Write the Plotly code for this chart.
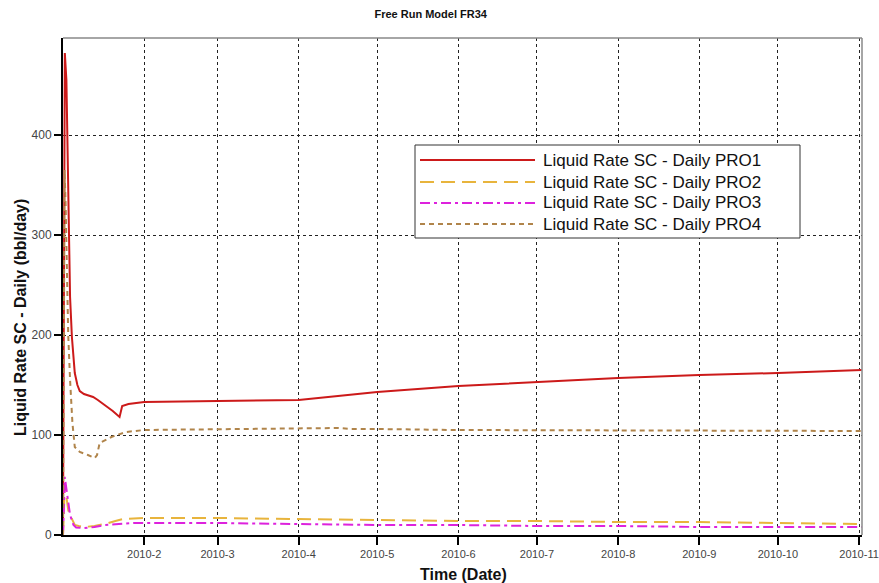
import pandas as pd
import plotly.graph_objects as go

START = "2010-01-01"
END = "2010-11-02 03:00"

# Day offsets from 2010-01-01 and values (bbl/day)
pro1_days = [0, 0.3, 0.7, 1.3, 1.8, 2.3, 2.7, 3.4, 4.5, 5.5, 6.4, 8, 9.5, 11.5, 13.3, 16, 19, 21.6, 22.1, 22.6, 25, 27.3, 31, 59, 90, 105, 120, 151, 181, 212, 243, 273, 305]
pro1_vals = [0, 300, 482, 455, 380, 300, 238, 198, 162, 150, 144, 141, 140, 138, 135, 130, 124, 118, 124, 129, 131, 132, 133, 134, 135, 139, 143, 149, 153, 157, 160, 162, 165]

pro2_days = [0, 0.3, 0.7, 1.2, 2, 2.7, 4.5, 6, 8, 12, 16, 20, 23, 31, 59, 90, 120, 151, 181, 212, 243, 273, 305]
pro2_vals = [0, 30, 50, 40, 25, 20, 10, 9, 8, 9, 11, 14, 16, 17, 17, 16, 15, 14, 14, 13, 13, 12, 11]

pro3_days = [0, 0.3, 0.7, 1.2, 2, 2.7, 4, 5, 8, 12, 16, 20, 27, 31, 59, 90, 120, 151, 181, 212, 243, 273, 305]
pro3_vals = [0, 40, 58, 48, 30, 20, 10, 7.5, 7, 8, 10, 11, 12, 12, 12, 11, 10, 10, 9, 9, 8, 8, 8]

pro4_days = [0, 0.3, 0.6, 1.0, 1.5, 2.0, 2.7, 3.6, 4.5, 6.4, 9.5, 11.4, 12.1, 13, 14, 18.5, 24, 31, 59, 90, 105, 110, 120, 150, 305]
pro4_vals = [0, 250, 365, 330, 250, 200, 155, 112, 88, 83, 80, 78, 77, 80, 92, 98, 103, 105, 106, 107, 107, 106, 106, 105, 104]

series_names = ["Liquid Rate SC - Daily PRO1", "Liquid Rate SC - Daily PRO2",
                "Liquid Rate SC - Daily PRO3", "Liquid Rate SC - Daily PRO4"]

tick_dates = ["2010-02-01", "2010-03-01", "2010-04-01", "2010-05-01", "2010-06-01",
              "2010-07-01", "2010-08-01", "2010-09-01", "2010-10-01", "2010-11-01"]
tick_text = ["2010-2", "2010-3", "2010-4", "2010-5", "2010-6",
             "2010-7", "2010-8", "2010-9", "2010-10", "2010-11"]


def to_dates(days):
    return pd.Timestamp(START) + pd.to_timedelta(days, unit="D")


styles = [
    dict(color="#cc1a1a", width=2, dash="solid"),
    dict(color="#e8b43c", width=2, dash="14px,7px"),
    dict(color="#dd22dd", width=2, dash="10px,4px,3px,4px"),
    dict(color="#b0844a", width=2, dash="5px,4px"),
]

fig = go.Figure()
for name, d, v, st in zip(series_names,
                          [pro1_days, pro2_days, pro3_days, pro4_days],
                          [pro1_vals, pro2_vals, pro3_vals, pro4_vals],
                          styles):
    fig.add_trace(go.Scatter(x=to_dates(d), y=v, mode="lines", name=name, line=st,
                             showlegend=False))

tick_font = dict(family="Liberation Sans Narrow, Arial Narrow, Liberation Sans", size=11, color="#444444")
L, R, T, B = 63, 862, 38, 535
W_PLOT, H_PLOT = R - L, B - T


def px_x(px):
    return (px - L) / W_PLOT


def px_y(py):
    return (B - py) / H_PLOT


# Legend drawn as a boxed key
shapes = [
    dict(type="line", xref="paper", yref="paper", x0=0, x1=1, y0=1, y1=1,
         line=dict(color="#888888", width=1.5)),
    dict(type="line", xref="paper", yref="paper", x0=1, x1=1, y0=0, y1=1,
         line=dict(color="#888888", width=1.5)),
    dict(type="rect", xref="paper", yref="paper", x0=px_x(415), x1=px_x(800),
         y0=px_y(238), y1=px_y(145), fillcolor="white",
         line=dict(color="#333333", width=1), layer="above"),
]
annotations = []
row_y = [160, 182, 203, 224]
for name, st, ry in zip(series_names, styles, row_y):
    shapes.append(dict(type="line", xref="paper", yref="paper",
                       x0=px_x(420), x1=px_x(535), y0=px_y(ry), y1=px_y(ry),
                       line=dict(color=st["color"], width=2, dash=st["dash"]), layer="above"))
    annotations.append(dict(text=name, xref="paper", yref="paper", x=px_x(541), y=px_y(ry),
                            xanchor="left", yanchor="middle", showarrow=False,
                            font=dict(family="Liberation Sans, Arial", size=17, color="#111111")))

annotations.append(dict(text="<b>Liquid Rate SC - Daily (bbl/day)</b>", textangle=-90,
                        xref="paper", yref="paper", x=px_x(20), y=px_y(318),
                        xanchor="center", yanchor="middle", showarrow=False,
                        font=dict(family="Liberation Sans, Arial", size=16, color="#111111")))
annotations.append(dict(text="<b>Time (Date)</b>",
                        xref="paper", yref="paper", x=px_x(463), y=px_y(574),
                        xanchor="center", yanchor="middle", showarrow=False,
                        font=dict(family="Liberation Sans, Arial", size=16, color="#111111")))

fig.update_layout(
    width=879, height=583,
    margin=dict(l=L, r=879 - R, t=T, b=583 - B),
    paper_bgcolor="white", plot_bgcolor="white",
    title=dict(text="<b>Free Run Model FR34</b>", x=0.49, xanchor="center", y=0.975, yanchor="middle",
               font=dict(family="Liberation Sans, Arial", size=11, color="#111111")),
    showlegend=False,
    xaxis=dict(range=[START, END], type="date", automargin=False,
               tickmode="array", tickvals=tick_dates, ticktext=tick_text,
               ticklabeloverflow="allow",
               showgrid=True, gridcolor="#222222", griddash="dot", gridwidth=1,
               showline=True, linecolor="black", linewidth=2,
               ticks="outside", ticklen=8, tickwidth=2, tickcolor="black",
               tickfont=tick_font, zeroline=False),
    yaxis=dict(range=[0, 497], tickmode="array", tickvals=[0, 100, 200, 300, 400],
               automargin=False,
               showgrid=True, gridcolor="#222222", griddash="dot", gridwidth=1,
               showline=True, linecolor="black", linewidth=2,
               ticks="outside", ticklen=7, tickwidth=2, tickcolor="black",
               tickfont=dict(tick_font, size=12), zeroline=False),
    annotations=annotations,
    shapes=shapes,
)

fig.write_html("out.html")
